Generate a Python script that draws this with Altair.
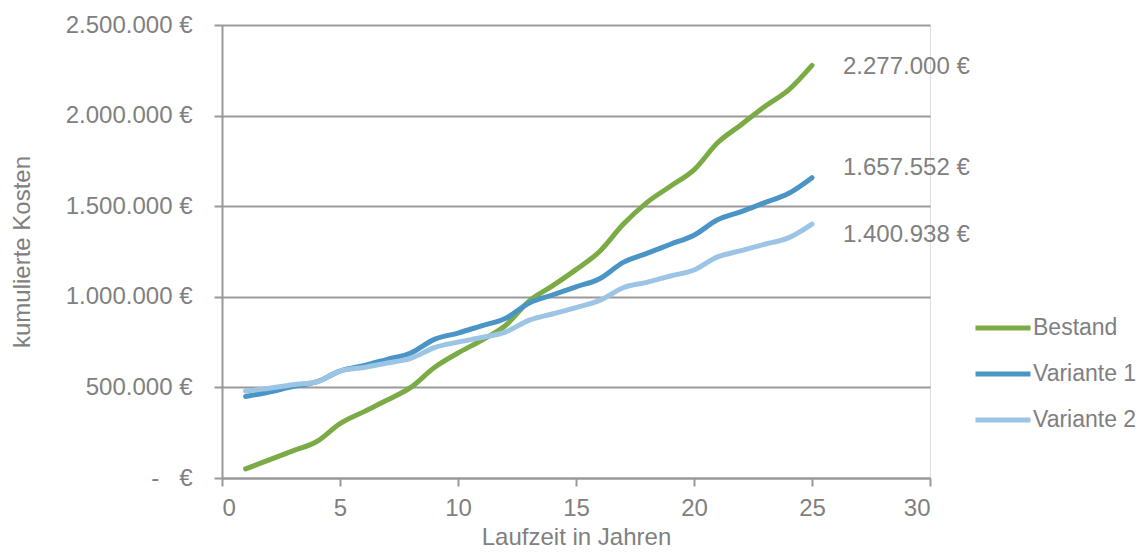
import altair as alt
import pandas as pd

years = list(range(1, 26))
bestand = [50000, 100000, 150000, 200000, 300000, 365000, 430000, 500000, 610000, 690000,
           760000, 840000, 975000, 1060000, 1150000, 1250000, 1400000, 1520000, 1610000, 1700000,
           1850000, 1950000, 2050000, 2140000, 2277000]
variante1 = [450000, 475000, 505000, 530000, 590000, 620000, 655000, 690000, 765000, 800000,
             840000, 880000, 965000, 1010000, 1055000, 1100000, 1190000, 1240000, 1290000, 1340000,
             1425000, 1470000, 1520000, 1570000, 1657552]
variante2 = [480000, 495000, 515000, 530000, 590000, 610000, 635000, 660000, 720000, 750000,
             775000, 805000, 870000, 905000, 940000, 980000, 1050000, 1080000, 1115000, 1148000,
             1220000, 1255000, 1290000, 1325000, 1400938]
series = ["Bestand", "Variante 1", "Variante 2"]
colors = ["#7bab45", "#4a95c6", "#9cc4e4"]
end_labels = ["2.277.000 €", "1.657.552 €", "1.400.938 €"]
end_label_y = [2270000, 1710000, 1340000]

rows = []
for name, vals in zip(series, [bestand, variante1, variante2]):
    for yr, v in zip(years, vals):
        rows.append({"Jahr": yr, "Kosten": v, "Serie": name})
df = pd.DataFrame(rows)
lab = pd.DataFrame({"Jahr": [25, 25, 25], "Kosten": end_label_y, "Text": end_labels})

GRAY = "#999999"
TXT = "#808080"
FONT = "Liberation Sans"
FS = 24

x = alt.X("Jahr:Q", scale=alt.Scale(domain=[0, 30], nice=False),
          axis=alt.Axis(values=[0, 5, 10, 15, 20, 25, 30], title="Laufzeit in Jahren",
                        grid=False, domainColor=GRAY, domainWidth=2, tickColor=GRAY,
                        tickWidth=2, tickSize=8, labelPadding=10, labelFontSize=FS,
                        labelColor=TXT, titleFontSize=FS, titleColor=TXT,
                        titleFontWeight="normal", titlePadding=5, labelFont=FONT,
                        titleFont=FONT))
y = alt.Y("Kosten:Q", scale=alt.Scale(domain=[0, 2500000], nice=False),
          axis=alt.Axis(values=[0, 500000, 1000000, 1500000, 2000000, 2500000],
                        title="kumulierte Kosten",
                        labelExpr="datum.value == 0 ? '-\u00a0\u00a0\u00a0€' : replace(format(datum.value, ',d'), /,/g, '.') + ' €'",
                        grid=True, gridColor=GRAY, gridWidth=2, domainColor=GRAY, domainWidth=2,
                        tickColor=GRAY, tickWidth=2, tickSize=8, labelPadding=22,
                        labelFontSize=FS, labelColor=TXT, titleFontSize=FS, titleColor=TXT,
                        titleFontWeight="normal", titlePadding=31, labelFont=FONT,
                        titleFont=FONT))

lines = alt.Chart(df).mark_line(strokeWidth=5, interpolate="monotone", strokeCap="round").encode(
    x=x, y=y,
    color=alt.Color("Serie:N", scale=alt.Scale(domain=series, range=colors),
                    legend=alt.Legend(title=None, orient="none", legendX=751, legendY=273,
                                      symbolType="stroke", symbolSize=3025,
                                      symbolStrokeWidth=5, labelFontSize=23,
                                      labelColor=TXT, labelFont=FONT, labelOffset=0,
                                      rowPadding=4)),
)

texts = alt.Chart(lab).mark_text(align="left", baseline="middle", dx=31, fontSize=FS,
                                 color=TXT, font=FONT).encode(
    x="Jahr:Q", y="Kosten:Q", text="Text:N")

chart = alt.layer(lines, texts).properties(
    width=708, height=453,
    autosize=alt.AutoSizeParams(type="none"),
    padding={"left": 214, "top": 17, "right": 209, "bottom": 71},
).configure_view(stroke=None).configure(font=FONT)

chart.save("out.html", embed_options={"renderer": "svg", "actions": False})
